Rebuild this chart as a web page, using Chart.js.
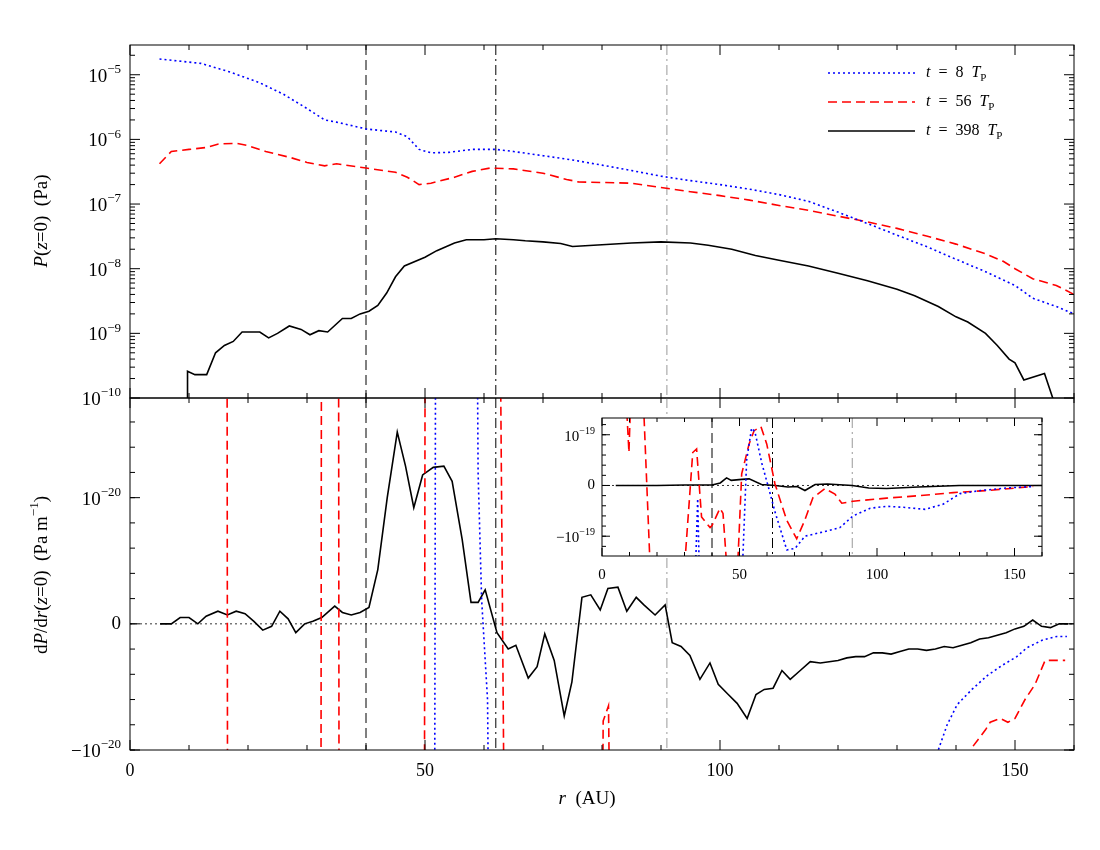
<!DOCTYPE html>
<html><head><meta charset="utf-8">
<script src="https://cdn.jsdelivr.net/npm/chart.js@4"></script>
<style>body{margin:0;background:#fff}canvas{position:absolute;left:0;top:0}</style>
</head><body>
<canvas id="c1" width="1100" height="850"></canvas>
<canvas id="c2" width="1100" height="850"></canvas>
<canvas id="c3" width="1100" height="850"></canvas>
<script>
// ---- top panel: P(z=0) in Pa ----
const rB=[5,12,17,22,26,30,33,35,38,40,45,47,49,51,54,58,62,65,70,75,80,85,90,95,100,105,110,115,120,125,130,135,140,145,150,153,157,160];
const PB=[1.75e-5,1.5e-5,1.1e-5,7.5e-6,5e-6,3e-6,2e-6,1.85e-6,1.6e-6,1.45e-6,1.3e-6,1.1e-6,7e-7,6.2e-7,6.3e-7,7e-7,7e-7,6.5e-7,5.6e-7,4.8e-7,4e-7,3.3e-7,2.7e-7,2.3e-7,2e-7,1.7e-7,1.4e-7,1.1e-7,7.5e-8,5e-8,3.3e-8,2.2e-8,1.4e-8,9e-9,5.5e-9,3.5e-9,2.6e-9,2e-9];
const rR=[5,7,10,13,15,18,20,23,27,30,33,35,40,45,47,49,51,55,58,61,65,70,74,76,85,90,95,100,105,110,115,120,125,130,135,140,145,148,150,153,157,160];
const PR=[4.2e-7,6.5e-7,7e-7,7.5e-7,8.5e-7,8.7e-7,8e-7,6.5e-7,5.3e-7,4.4e-7,3.9e-7,4.2e-7,3.6e-7,3.1e-7,2.6e-7,2e-7,2.1e-7,2.6e-7,3.2e-7,3.6e-7,3.5e-7,3e-7,2.4e-7,2.2e-7,2.1e-7,1.8e-7,1.55e-7,1.35e-7,1.15e-7,9.5e-8,8e-8,6.5e-8,5.3e-8,4.2e-8,3.2e-8,2.4e-8,1.7e-8,1.3e-8,1e-8,7e-9,5.5e-9,4e-9];
const rK=[9.7,9.75,11,13,14.5,16,17.5,19,22,23.5,25,27,29,30.5,32,33.5,36,37.5,39,40.5,42,43.5,45,46.5,50,52,55,57,60,62,65,67,70,73,75,80,85,90,95,98,102,106,110,115,120,125,130,133,137,140,142,145,147,149,150,151.5,155,157.5];
const PK=[5e-11,2.6e-10,2.3e-10,2.3e-10,5e-10,6.5e-10,7.5e-10,1.05e-9,1.05e-9,8.5e-10,1e-9,1.3e-9,1.15e-9,9.5e-10,1.1e-9,1.05e-9,1.7e-9,1.7e-9,2e-9,2.2e-9,2.7e-9,4.2e-9,7.5e-9,1.1e-8,1.5e-8,1.9e-8,2.5e-8,2.8e-8,2.8e-8,2.9e-8,2.8e-8,2.7e-8,2.6e-8,2.45e-8,2.2e-8,2.35e-8,2.5e-8,2.6e-8,2.5e-8,2.3e-8,2e-8,1.6e-8,1.35e-8,1.1e-8,8.5e-9,6.5e-9,4.8e-9,3.8e-9,2.6e-9,1.8e-9,1.5e-9,1e-9,6.5e-10,4e-10,3.5e-10,1.9e-10,2.4e-10,5e-11];
const topTicks=[1e-10,1e-9,1e-8,1e-7,1e-6,1e-5];
const topLabels=[['10','−10'],['10','−9'],['10','−8'],['10','−7'],['10','−6'],['10','−5']];
// ---- bottom panel: dP/dr in units of 1e-20 Pa/m ----
const rK2=[5.1,7,8.5,10,11.5,12.9,14.9,16.5,18,19.5,21,22.5,24,25.4,26.8,28.1,29.6,31,32.5,34.7,36,37.5,39,40.5,42,43.6,45.3,46.7,48.1,49.6,51.4,53.2,54.6,56.3,57.8,59,60.2,62.2,64.1,65.4,67.5,69,70.3,71.9,73.6,74.9,76.6,78.1,79.7,81,82.7,84.2,85.8,87.1,89,90.7,91.9,93.4,94.9,96.6,98.3,99.7,101.4,102.9,104.6,106.1,107.5,109,110.5,111.9,113.6,115.3,117,118.5,120,121.5,123,124.5,126,127.5,129,130.5,132,133.5,135,136.5,138,139.5,141,142.5,144,145.5,147,148.5,150,151.5,153,154.5,156,157.5,159];
const dK=[0,0,0.05,0.05,0,0.06,0.1,0.07,0.1,0.08,0.02,-0.05,-0.02,0.1,0.04,-0.07,0,0.02,0.05,0.14,0.09,0.07,0.09,0.13,0.43,1.0,1.52,1.25,0.92,1.18,1.24,1.25,1.13,0.67,0.17,0.17,0.27,-0.07,-0.2,-0.17,-0.43,-0.34,-0.08,-0.29,-0.73,-0.46,0.21,0.23,0.11,0.28,0.29,0.1,0.21,0.15,0.07,0.15,-0.15,-0.18,-0.25,-0.44,-0.31,-0.48,-0.56,-0.63,-0.75,-0.56,-0.52,-0.51,-0.37,-0.44,-0.37,-0.3,-0.31,-0.3,-0.29,-0.27,-0.26,-0.26,-0.23,-0.23,-0.24,-0.22,-0.2,-0.2,-0.21,-0.2,-0.18,-0.19,-0.17,-0.15,-0.12,-0.11,-0.09,-0.07,-0.04,-0.02,0.03,-0.02,-0.03,0,0];
const rR2=[14,16.4,16.6,32.3,32.5,35.3,35.5,49.8,50.1,62.3,64,79.6,80.2,81.1,82.2,141.5,142.4,145,145.8,147.5,148.8,150,151.7,153.4,155.1,156.8,158.5];
const dR=[5,5,-5,-5,5,5,-5,-5,5,5,-5,-5,-0.77,-0.65,-5,-5,-1.0,-0.84,-0.78,-0.75,-0.78,-0.75,-0.6,-0.48,-0.29,-0.29,-0.29];
const rB2=[51.5,51.9,58.5,59,59.6,60.6,61.5,136.5,137,138.5,140.2,142.7,145.3,147.8,150.3,152,154.6,157.1,158.8];
const dB=[-5,5,5,1.2,0.19,-0.6,-5,-5,-1.0,-0.8,-0.64,-0.52,-0.41,-0.33,-0.26,-0.19,-0.13,-0.1,-0.1];
const botTicks=[-1,0,1];
const botLabels=[['−10','−20'],['0',''],['10','−20']];
// ---- inset: dP/dr in units of 1e-19 Pa/m ----
const rKi=[5,20,30,40,43,45.3,47,50.8,53.5,58,63,67.6,71,73.8,77.5,82,91,97,103.5,115,130,160];
const iK=[0,0,0.01,0.01,0.05,0.15,0.1,0.12,0.13,0.02,0,-0.03,-0.02,-0.1,0.02,0.03,0,-0.05,-0.06,-0.03,0,0];
const rRi=[8.5,9.8,10.6,14.8,17.8,29.5,33,34.4,36.2,39.3,40,42.9,44,45.9,49,50.8,53.5,55.3,57.8,59.9,62.9,67.2,70.8,73.7,76.7,81.1,84.7,87.2,91.3,103.5,115.6,127.7,139.9,156.8];
const iR=[2,0.65,2,2,-2,-2,0.65,0.72,-0.62,-0.83,-0.79,-0.45,-0.55,-2,-2,0.23,0.82,1.08,1.16,0.82,0.03,-0.69,-1.05,-0.69,-0.24,-0.06,-0.17,-0.35,-0.31,-0.25,-0.2,-0.14,-0.1,-0.02];
const rBi=[33.8,34.8,35.5,50.8,52.6,54.4,55.6,58.1,60.5,62.9,67.2,70.2,73.8,79.3,86.5,91.3,97.5,103.5,109.6,117.5,124,130.2,137.5,147,156.8];
const iB=[-2,-0.26,-2,-2,0.5,1.13,1.06,0.44,-0.03,-0.52,-1.27,-1.24,-1.0,-0.93,-0.83,-0.6,-0.45,-0.41,-0.43,-0.47,-0.37,-0.16,-0.1,-0.05,-0.02];
const insetTicks=[-1,0,1];
const insetLabels=[['−10','−19'],['0',''],['10','−19']];
const xTicks=[0,50,100,150];
const legendLabels=['8','56','398'];
const markers=[{r:40,dash:[10,5],c:'#000'},{r:62,dash:[10,4,2,4],c:'#000'},{r:91,dash:[10,4,2,4],c:'#999'}];

const SERIF='"Liberation Serif","DejaVu Serif",serif';
const pts=(xs,ys)=>xs.map((x,i)=>({x,y:ys[i]}));
const dsB=(d)=>({data:d,borderColor:'#0000ff',borderWidth:1.6,borderDash:[2,3],pointRadius:0,tension:0});
const dsR=(d)=>({data:d,borderColor:'#ff0000',borderWidth:1.6,borderDash:[9,5],pointRadius:0,tension:0});
const dsK=(d)=>({data:d,borderColor:'#000',borderWidth:1.6,pointRadius:0,tension:0});

function fontOf(p,size){return (p.it?'italic ':'')+((p.sup||p.sub)?Math.round(size*0.68):size)+'px '+SERIF;}
function widthOf(ctx,parts,size){let w=0;parts.forEach(p=>{ctx.font=fontOf(p,size);w+=ctx.measureText(p.t).width;});return w;}
function drawRich(ctx,parts,x,y,size,rot,align){
  ctx.save();ctx.translate(x,y);if(rot)ctx.rotate(rot);
  const w=widthOf(ctx,parts,size);
  let cx=align==='right'?-w:align==='left'?0:-w/2;ctx.fillStyle='#000';ctx.textBaseline='middle';ctx.textAlign='left';
  parts.forEach(p=>{ctx.font=fontOf(p,size);const dy=p.sup?-size*0.38:p.sub?size*0.3:0;ctx.fillText(p.t,cx,dy);cx+=ctx.measureText(p.t).width;});
  ctx.restore();
}
const framePlugin={id:'frame',
  beforeDraw(chart,a,o){if(o.white){const c=chart.chartArea,ctx=chart.ctx;ctx.save();ctx.fillStyle='#fff';ctx.fillRect(c.left,c.top,c.width,c.height);ctx.restore();}},
  beforeDatasetsDraw(chart,a,o){
    const ctx=chart.ctx,c=chart.chartArea,xs=chart.scales.x,ys=chart.scales.y;
    ctx.save();ctx.beginPath();ctx.rect(c.left,c.top,c.width,c.height);ctx.clip();ctx.lineWidth=1;
    markers.forEach(m=>{const px=xs.getPixelForValue(m.r);ctx.strokeStyle=m.c;ctx.setLineDash(m.dash);ctx.beginPath();ctx.moveTo(px,c.top);ctx.lineTo(px,c.bottom);ctx.stroke();});
    if(o.zero){const py=ys.getPixelForValue(0);ctx.strokeStyle='#000';ctx.lineWidth=0.8;ctx.setLineDash([2,3]);ctx.beginPath();ctx.moveTo(c.left,py);ctx.lineTo(c.right,py);ctx.stroke();}
    ctx.restore();
  },
  afterDraw(chart,a,o){
    const ctx=chart.ctx,c=chart.chartArea,xs=chart.scales.x,ys=chart.scales.y;
    ctx.save();ctx.strokeStyle='#000';ctx.lineWidth=1;ctx.setLineDash([]);
    ctx.strokeRect(c.left,c.top,c.width,c.height);
    const L=o.L,l=o.L/2;ctx.beginPath();
    for(let v=0;v<=160;v+=10){const px=xs.getPixelForValue(v);const len=v%50===0?L:l;
      ctx.moveTo(px,c.bottom);ctx.lineTo(px,c.bottom-len);ctx.moveTo(px,c.top);ctx.lineTo(px,c.top+len);}
    o.yMajor.forEach(v=>{const py=ys.getPixelForValue(v);if(py<c.top-0.5||py>c.bottom+0.5)return;ctx.moveTo(c.left,py);ctx.lineTo(c.left+L,py);ctx.moveTo(c.right,py);ctx.lineTo(c.right-L,py);});
    o.yMinor.forEach(v=>{const py=ys.getPixelForValue(v);if(py<c.top||py>c.bottom)return;ctx.moveTo(c.left,py);ctx.lineTo(c.left+l,py);ctx.moveTo(c.right,py);ctx.lineTo(c.right-l,py);});
    ctx.stroke();ctx.restore();
    // y tick labels with real superscripts
    o.yMajor.forEach((v,i)=>{const py=ys.getPixelForValue(v);const lab=o.labels[i];
      const parts=[{t:lab[0]}];if(lab[1])parts.push({t:lab[1],sup:1});
      drawRich(ctx,parts,c.left-o.pad,py+(lab[1]?2:0),o.size,0,'right');});
    if(o.extra)o.extra(chart);
  }};
const logMinor=[];for(let e=-10;e<=-5;e++)for(let m=2;m<=9;m++)logMinor.push(m*10**e);
const linMinor=(a,b)=>{const r=[];for(let v=a;v<=b+1e-9;v+=0.2)r.push(+v.toFixed(2));return r;};

function xAxis(show,h,size){return {type:'linear',min:0,max:160,
  afterBuildTicks:s=>{s.ticks=xTicks.map(v=>({value:v}));},
  afterFit:s=>{s.height=h;},grid:{display:false,drawTicks:false},border:{display:false},
  ticks:{display:show,color:'#000',font:{family:SERIF,size:size},padding:10,maxRotation:0}};}
function yAxis(w,ticks,extra){return Object.assign({
  afterBuildTicks:s=>{s.ticks=ticks.map(v=>({value:v}));},
  afterFit:s=>{s.width=w;},grid:{display:false,drawTicks:false},border:{display:false},
  ticks:{display:false}},extra);}

// Top chart
new Chart(document.getElementById('c1'),{type:'line',
  data:{datasets:[dsB(pts(rB,PB)),dsR(pts(rR,PR)),dsK(pts(rK,PK))]},
  options:{responsive:false,animation:false,devicePixelRatio:1,layout:{padding:{left:0,right:26,top:45,bottom:452}},
    plugins:{legend:{display:false},tooltip:{enabled:false},
      frame:{L:10,yMajor:topTicks,labels:topLabels,size:19,pad:9,yMinor:logMinor,extra(chart){
        const ctx=chart.ctx;const cols=['#0000ff','#ff0000','#000'],dashes=[[2,3],[9,5],[]];
        legendLabels.forEach((lab,i)=>{const y=73+29*i;ctx.save();ctx.strokeStyle=cols[i];ctx.lineWidth=1.6;ctx.setLineDash(dashes[i]);
          ctx.beginPath();ctx.moveTo(828,y);ctx.lineTo(915,y);ctx.stroke();ctx.restore();
          const parts=[{t:'t',it:1},{t:'  =  '+lab+'  '},{t:'T',it:1},{t:'P',sub:1}];
          drawRich(ctx,parts,926,y,16,0,'left');});
        drawRich(ctx,[{t:'P',it:1},{t:'('},{t:'z',it:1},{t:'=0)  (Pa)'}],42,221,19,-Math.PI/2);
      }}},
    scales:{x:xAxis(false,0,17),y:yAxis(130,topTicks,{type:'logarithmic',min:1e-10,max:10**-4.54})}},
  plugins:[framePlugin]});

// Bottom chart
new Chart(document.getElementById('c2'),{type:'line',
  data:{datasets:[dsB(pts(rB2,dB)),dsR(pts(rR2,dR)),dsK(pts(rK2,dK))]},
  options:{responsive:false,animation:false,devicePixelRatio:1,layout:{padding:{left:0,right:26,top:398,bottom:0}},
    plugins:{legend:{display:false},tooltip:{enabled:false},
      frame:{L:10,zero:true,yMajor:botTicks,labels:botLabels,size:19,pad:9,yMinor:linMinor(-1,1.8),extra(chart){
        const ctx=chart.ctx;
        drawRich(ctx,[{t:'d'},{t:'P',it:1},{t:'/d'},{t:'r',it:1},{t:'('},{t:'z',it:1},{t:'=0)  (Pa m'},{t:'−1',sup:1},{t:')'}],42,575,19,-Math.PI/2);
        drawRich(ctx,[{t:'r',it:1},{t:'  (AU)'}],587,799,19,0);
      }}},
    scales:{x:xAxis(true,100,18),y:yAxis(130,botTicks,{type:'linear',min:-1,max:1.79})}},
  plugins:[framePlugin]});

// Inset chart
new Chart(document.getElementById('c3'),{type:'line',
  data:{datasets:[dsB(pts(rBi,iB)),dsR(pts(rRi,iR)),dsK(pts(rKi,iK))]},
  options:{responsive:false,animation:false,devicePixelRatio:1,layout:{padding:{left:0,right:58,top:418,bottom:268}},
    plugins:{legend:{display:false},tooltip:{enabled:false},
      frame:{L:8,white:true,zero:true,yMajor:insetTicks,labels:insetLabels,size:15,pad:7,yMinor:linMinor(-1.2,1.2)}},
    scales:{x:xAxis(true,26,15),y:yAxis(602,insetTicks,{type:'linear',min:-1.39,max:1.33})}},
  plugins:[framePlugin]});
</script></body></html>
